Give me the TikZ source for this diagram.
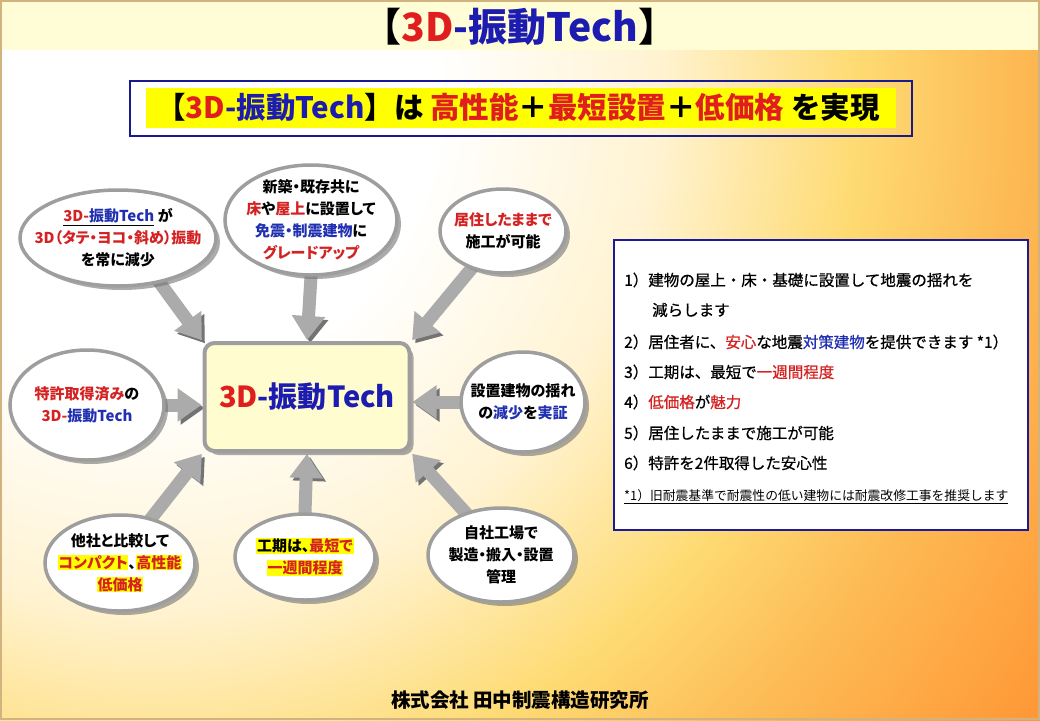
\documentclass[tikz,border=0pt]{standalone}
\usepackage{fontspec}
\setmainfont{Noto Sans CJK JP}
\newfontfamily\medfont[FakeBold=0.7]{Noto Sans CJK JP}
\newfontfamily\pfont[RawFeature=+palt]{Noto Sans CJK JP}
\usetikzlibrary{shapes.geometric,arrows.meta,shadows}
\definecolor{bgA}{HTML}{FFF3D2}
\definecolor{bgB}{HTML}{FEDB74}
\definecolor{bgC}{HTML}{FDBB55}
\definecolor{bgD}{HTML}{FF9433}
\definecolor{titlebg}{HTML}{FFFDD6}
\definecolor{framtan}{HTML}{D2B27E}
\definecolor{tred}{HTML}{E01E1E}
\definecolor{tblue}{HTML}{1C1CB0}
\definecolor{ered}{HTML}{D42222}
\definecolor{eblue}{HTML}{2030B0}
\definecolor{subblue}{HTML}{1A1A90}
\definecolor{boxblue}{HTML}{1A1A9A}
\definecolor{ellgray}{HTML}{9E9E9E}
\definecolor{arrgray}{HTML}{ABABAB}
\definecolor{cfill}{HTML}{FFFCD0}
\definecolor{hlyellow}{HTML}{FFFF00}
\pgfdeclareradialshading{bgshade}{\pgfpoint{0bp}{0bp}}{color(0bp)=(white); color(6.5bp)=(white); color(11.5bp)=(bgA); color(16bp)=(bgB); color(19.5bp)=(bgC); color(25bp)=(bgD); color(50bp)=(bgD)}
\pgfdeclarelayer{back}
\pgfdeclarelayer{mid}
\pgfsetlayers{back,mid,main}
\newcommand{\hlt}[1]{{\setlength{\fboxsep}{0.6pt}\colorbox{hlyellow}{#1}}}
\tikzset{
  bubble/.style={ellipse, draw=ellgray, line width=3.5pt, fill=white, inner sep=0pt,
    drop shadow={shadow xshift=4pt, shadow yshift=-4pt, fill=black!55, opacity=0.6}},
  btext/.style={align=center, font=\pfont\bfseries\fontsize{15}{22}\selectfont, inner sep=0pt},
  bigarrow/.style={draw=arrgray, line width=13pt, -{Triangle[length=24pt,width=32pt]},
    shorten <=-8pt, shorten >=1pt,
    preaction={draw=black!55, transform canvas={shift={(3pt,-3pt)}}}},
  rline/.style={anchor=west, inner sep=0pt, font=\medfont\fontsize{15.5}{18}\selectfont},
}
\begin{document}
\begin{tikzpicture}[x=1pt,y=-1pt]
\useasboundingbox (0,0) rectangle (1040,720);
\begin{pgfonlayer}{back}
\begin{scope}
\clip (0,0) rectangle (1040,720);
\shade[shading=bgshade] (150,100) circle (1100pt);
\end{scope}
\fill[titlebg] (1,1) rectangle (1039,50);
\draw[framtan, line width=1.5pt] (1,1) rectangle (1039,719);
\end{pgfonlayer}

% title
\node[font=\bfseries\fontsize{39}{44}\selectfont, inner sep=0pt] (title) at (520,27)
  {【{\color{tred}3D}{\color{tblue}-振動Tech}】};

% subtitle
\node[draw=subblue, line width=2pt, minimum width=782pt, minimum height=55pt, inner sep=0pt] (subbox) at (521,108) {};
\fill[hlyellow] (146,88) rectangle (896,128);
\node[font=\bfseries\fontsize{29.5}{32}\selectfont, inner sep=0pt] (subtext) at (518,107)
  {【{\color{tred}3D}{\color{tblue}-振動Tech}】は {\color{tred}高性能}＋{\color{tred}最短設置}＋{\color{tred}低価格} を実現};

% center box
\node[draw=ellgray, line width=4pt, fill=cfill, rounded corners=10pt, minimum width=205pt, minimum height=108pt,
  drop shadow={shadow xshift=4pt, shadow yshift=-4pt, fill=black!55, opacity=0.6},
  font=\bfseries\fontsize{29}{32}\selectfont] (c) at (307,397)
  {{\color{tred}3D}{\color{tblue}-振動Tech}};

% bubbles
\node[bubble, minimum width=196pt, minimum height=96pt] (e1) at (118,238) {};
\node[btext] (t1) at (e1) {\underline{{\color{ered}3D-}{\color{eblue}振動Tech}} が\\
  {\color{ered}3D（タテ・ヨコ・斜め）振動}\\を常に減少};

\node[bubble, minimum width=172pt, minimum height=110pt] (e2) at (311,220) {};
\node[btext] (t2) at (e2) {新築・既存共に\\{\color{ered}床}や{\color{ered}屋上}に設置して\\
  {\color{eblue}免震・制震建物}に\\{\color{ered}グレードアップ}};

\node[bubble, minimum width=126pt, minimum height=84pt] (e3) at (503,231) {};
\node[btext] (t3) at (e3) {{\color{ered}居住したままで}\\施工が可能};

\node[bubble, minimum width=154pt, minimum height=110pt] (e4) at (87,405) {};
\node[btext] (t4) at (e4) {{\color{ered}特許取得済み}の\\{\color{ered}3D-}{\color{eblue}振動Tech}};

\node[bubble, minimum width=124pt, minimum height=100pt] (e5) at (523,402) {};
\node[btext] (t5) at (e5) {設置建物の揺れ\\の{\color{eblue}減少}を{\color{eblue}実証}};

\node[bubble, minimum width=150pt, minimum height=96pt] (e6) at (120,563) {};
\node[btext] (t6) at (e6) {他社と比較して\\\hlt{\color{ered}コンパクト}、\hlt{\color{ered}高性能}\\\hlt{\color{ered}低価格}};

\node[bubble, minimum width=140pt, minimum height=86pt] (e7) at (305,557) {};
\node[btext] (t7) at (e7) {\hlt{工期は、{\color{ered}最短で}}\\\hlt{\color{ered}一週間程度}};

\node[bubble, minimum width=146pt, minimum height=94pt] (e8) at (501,555) {};
\node[btext] (t8) at (e8) {自社工場で\\製造・搬入・設置\\管理};

% arrows
\begin{pgfonlayer}{mid}
\draw[bigarrow] (e1.-47) -- (c.north west);
\draw[bigarrow] (e2.south) -- (c.north);
\draw[bigarrow] (e3.-130) -- (c.north east);
\draw[bigarrow] (e4.east) -- (e4.east -| c.west);
\draw[bigarrow] (e5.west) -- (e5.west -| c.east);
\draw[bigarrow] (e6.55) -- (c.south west);
\draw[bigarrow] (e7.north) -- (c.south);
\draw[bigarrow] (e8.130) -- (c.south east);
\end{pgfonlayer}

% right box
\node[draw=boxblue, line width=2.5pt, fill=white, minimum width=414pt, minimum height=290pt, inner sep=0pt] (rbox) at (821,385) {};
\node[rline] (r1) at (624,280) {1）建物の屋上・床・基礎に設置して地震の揺れを};
\node[rline] (r2) at (652,310) {減らします};
\node[rline] (r3) at (624,342) {2）居住者に、{\color{ered}安心}な地震{\color{eblue}対策建物}を提供できます *1）};
\node[rline] (r4) at (624,372) {3）工期は、最短で{\color{ered}一週間程度}};
\node[rline] (r5) at (624,402) {4）{\color{ered}低価格}が{\color{ered}魅力}};
\node[rline] (r6) at (624,433) {5）居住したままで施工が可能};
\node[rline] (r7) at (624,463) {6）特許を2件取得した安心性};
\node[rline, font=\fontsize{12.8}{15}\selectfont] (r8) at (624,497) {\underline{*1）旧耐震基準で耐震性の低い建物には耐震改修工事を推奨します}};

% footer
\node[font=\bfseries\fontsize{19.5}{22}\selectfont, inner sep=0pt] (foot) at (520,700) {株式会社 田中制震構造研究所};
\end{tikzpicture}
\end{document}
